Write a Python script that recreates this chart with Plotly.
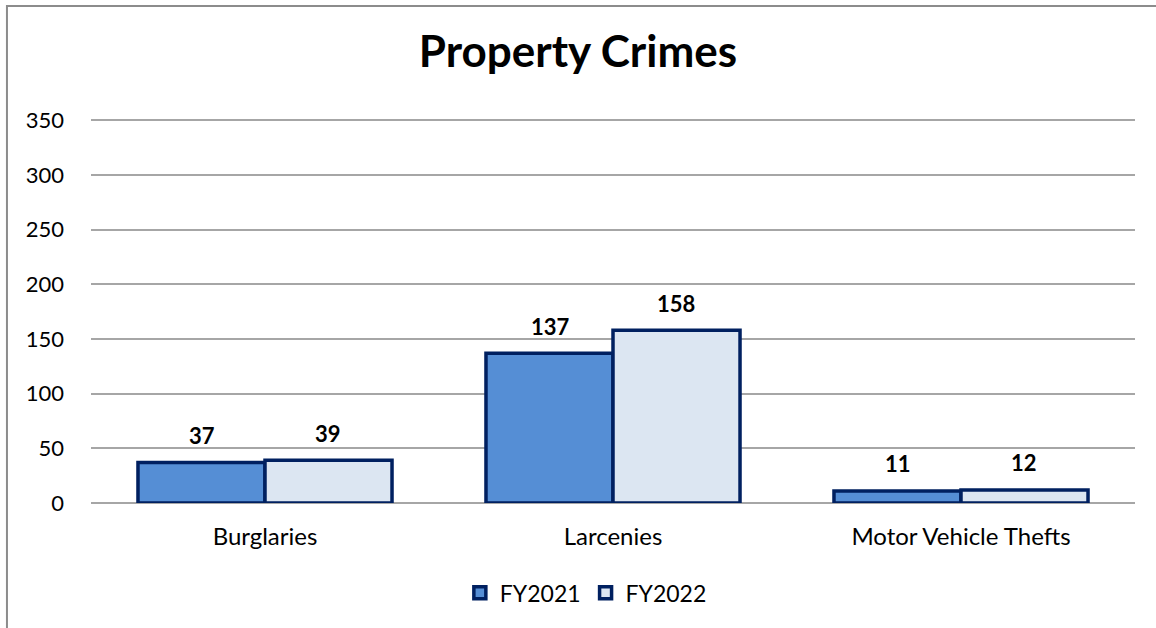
import plotly.graph_objs as go

# data
categories = ['Burglaries', 'Larcenies', 'Motor Vehicle Thefts']
fy2021 = [37, 137, 11]
fy2022 = [39, 158, 12]
y_ticks = [0, 50, 100, 150, 200, 250, 300, 350]

FONT = 'Lato, Noto Sans, sans-serif'
NAVY = '#002060'

fig = go.Figure()

fig.add_trace(go.Bar(
    x=categories,
    y=fy2021,
    name='FY2021',
    marker=dict(color='#558ED5', line=dict(color=NAVY, width=3.5)),
))
fig.add_trace(go.Bar(
    x=categories,
    y=fy2022,
    name='FY2022',
    marker=dict(color='#DCE6F2', line=dict(color=NAVY, width=3.5)),
))

# data labels, lifted a bit above the bars like the original
for series, shift in [(fy2021, -63), (fy2022, 63)]:
    for cat, val in zip(categories, series):
        fig.add_annotation(
            x=cat, y=val, text=f'<b>{val}</b>',
            showarrow=False, xshift=shift, yshift=27,
            yanchor='middle',
            font=dict(size=22, color='black', family=FONT)
        )

# chart area border (only left and top are visible)
fig.add_shape(
    type='rect', xref='paper', yref='paper',
    x0=-0.0805, x1=1.2, y0=-0.6, y1=1.291,
    line=dict(color='#8c8c8c', width=2),
    layer='below'
)

fig.update_layout(
    title=dict(
        text='<b>Property Crimes</b>',
        x=0.5, xanchor='center',
        y=0.918, yanchor='middle',
        font=dict(size=44, color='black', family=FONT)
    ),
    barmode='group',
    bargap=0.27,
    bargroupgap=0,
    width=1156,
    height=628,
    margin=dict(l=91, r=21, t=118, b=125),
    paper_bgcolor='white',
    plot_bgcolor='white',
    font=dict(family=FONT, size=22, color='black'),
    xaxis=dict(
        showgrid=False,
        showline=False,
        ticks='',
        ticklabelstandoff=17,
        tickfont=dict(size=24),
    ),
    yaxis=dict(
        range=[0, 352],
        tickvals=y_ticks,
        showgrid=True,
        gridcolor='#a6a6a6',
        gridwidth=1.5,
        zeroline=True,
        zerolinecolor='#a6a6a6',
        zerolinewidth=1.5,
        ticks='',
        ticklabelstandoff=26,
        tickfont=dict(size=22),
    ),
    legend=dict(
        orientation='h',
        x=0.474, xanchor='center',
        y=-0.233, yanchor='middle',
        font=dict(size=23),
        itemwidth=30,
        traceorder='normal'
    ),
    showlegend=True
)

fig.write_html(
    'out.html',
    config={'displayModeBar': False},
    post_script="document.body.style.margin='0';"
)
